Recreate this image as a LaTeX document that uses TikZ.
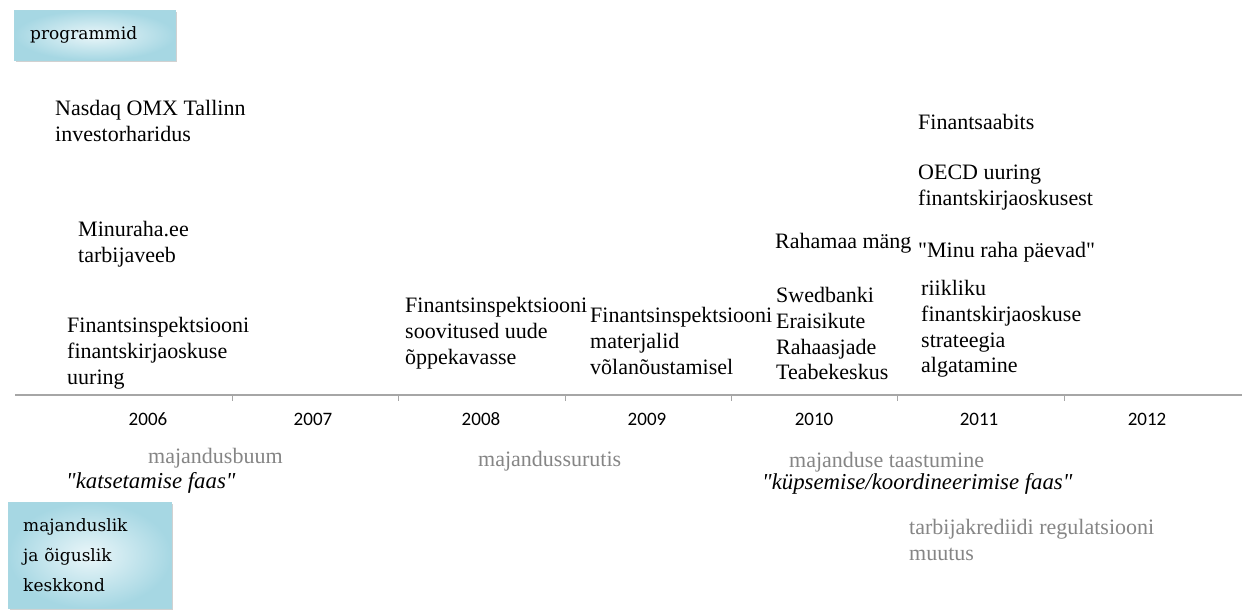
\documentclass[tikz,border=0pt]{standalone}
\usepackage{fontspec}
\setmainfont{Liberation Serif}[Ligatures=TeXOff]
\newfontfamily\boxfont{DejaVu Serif}[Ligatures=TeXOff]
\newfontfamily\yearfont{Carlito}
\usetikzlibrary{shadows}
\definecolor{boxdark}{HTML}{A6D7E3}
\definecolor{boxlight}{HTML}{EAF6F9}
\definecolor{boxedge}{HTML}{A8D7E2}
\definecolor{ctxgray}{HTML}{858585}
\definecolor{axisgray}{HTML}{A6A6A6}
\tikzset{
  event/.style={anchor=north west, align=left, inner sep=0pt, font=\fontsize{22}{25.8}\selectfont},
  context/.style={event, text=ctxgray},
  phasetxt/.style={event, font=\fontsize{22.8}{25.8}\selectfont\itshape},
  yearlbl/.style={anchor=base, inner sep=0pt, font=\yearfont\fontsize{19}{22}\selectfont},
  legendbox/.style={draw=boxedge, inner color=boxlight, outer color=boxdark, anchor=north west, align=left,
    drop shadow={shadow xshift=2pt, shadow yshift=-2pt, fill=black!30, opacity=0.6}},
}

\begin{document}
\begin{tikzpicture}[x=1pt, y=-1pt]
    \useasboundingbox (0,0) rectangle (1242,610);

    % legend boxes
    \node[legendbox, text width=129pt, inner xsep=16pt, inner ysep=0pt, minimum height=50pt,
      font=\boxfont\fontsize{17}{20}\selectfont] (progbox) at (14,10) {programmid};
    \node[legendbox, text width=133pt, inner xsep=15pt, inner ysep=0pt, minimum height=106pt,
      font=\boxfont\fontsize{17}{30}\selectfont] (envbox) at (8,502) {majanduslik\\ja õiguslik\\keskkond};

    % time axis
    \coordinate (axisL) at (15,395);
    \coordinate (axisR) at (1242,395);
    \draw[axisgray, line width=1.5pt] (axisL) -- (axisR);
    \foreach \tx in {232,398,565,731,897,1064}
      \draw[axisgray, line width=1pt] (\tx,395) -- (\tx,401);
    \foreach \yx/\yr in {148/2006,313/2007,481/2008,647/2009,814/2010,979/2011,1147/2012}
      \node[yearlbl] (y\yr) at (\yx,425) {\yr};

    % programmes
    \node[event] (nasdaq) at (55,100) {Nasdaq OMX Tallinn\\investorharidus};
    \node[event] (minuraha) at (78,221) {Minuraha.ee\\tarbijaveeb};
    \node[event] (fiuuring) at (67,317) {Finantsinspektsiooni\\finantskirjaoskuse\\uuring};
    \node[event] (fisoovitus) at (405,297) {Finantsinspektsiooni\\soovitused uude\\õppekavasse};
    \node[event] (fimaterjal) at (590,307) {Finantsinspektsiooni\\materjalid\\võlanõustamisel};
    \node[event] (rahamaa) at (775,233) {Rahamaa mäng};
    \node[event] (swedbank) at (776,287) {Swedbanki\\Eraisikute\\Rahaasjade\\Teabekeskus};
    \node[event] (aabits) at (918,114) {Finantsaabits};
    \node[event] (oecd) at (918,165) {OECD uuring\\finantskirjaoskusest};
    \node[event] (minupaevad) at (918,242) {"Minu raha päevad"};
    \node[event] (strateegia) at (921,280) {riikliku\\finantskirjaoskuse\\strateegia\\algatamine};

    % economic and legal environment
    \node[context] (buum) at (148,448) {majandusbuum};
    \node[context] (surutis) at (478,451) {majandussurutis};
    \node[context] (taastumine) at (789,452) {majanduse taastumine};
    \node[context] (regulats) at (909,519) {tarbijakrediidi regulatsiooni\\muutus};
    \node[phasetxt] (katse) at (66,472) {"katsetamise faas"};
    \node[phasetxt] (kypsemine) at (762,473) {"küpsemise/koordineerimise faas"};
\end{tikzpicture}
\end{document}
